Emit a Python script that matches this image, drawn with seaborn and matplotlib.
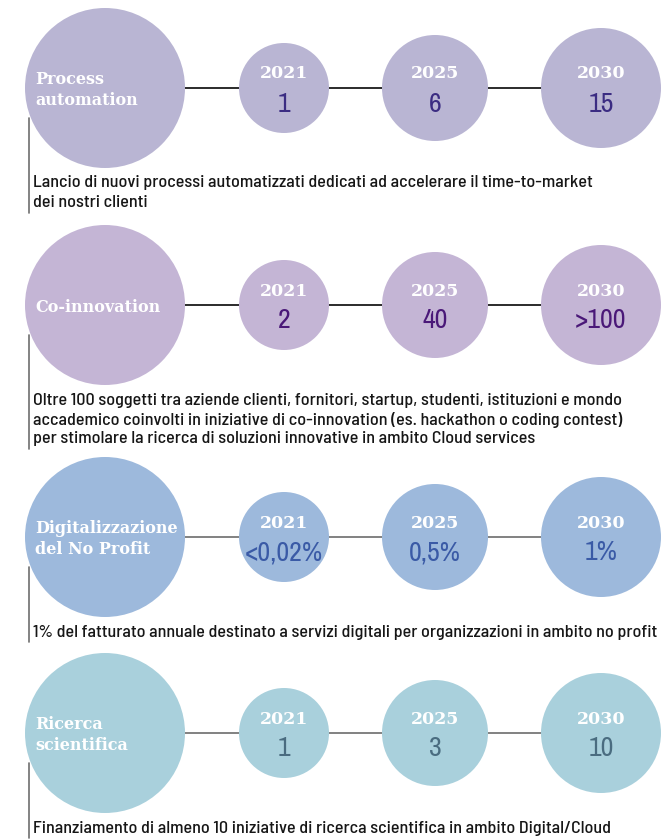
#!/usr/bin/env python3
"""
Roadmap infographic: four goals, each with a 2021 / 2025 / 2030 target.
"""

import pandas as pd
import matplotlib

matplotlib.use("Agg")
import matplotlib.pyplot as plt
import seaborn as sns
from matplotlib import font_manager

# Data
categories = [
    "Process\nautomation",
    "Co-innovation",
    "Digitalizzazione\ndel No Profit",
    "Ricerca\nscientifica",
]
years = ["2021", "2025", "2030"]
values_process = ["1", "6", "15"]
values_coinnovation = ["2", "40", ">100"]
values_noprofit = ["<0,02%", "0,5%", "1%"]
values_ricerca = ["1", "3", "10"]
descriptions = [
    "Lancio di nuovi processi automatizzati dedicati ad accelerare il time-to-market\n"
    "dei nostri clienti",
    "Oltre 100 soggetti tra aziende clienti, fornitori, startup, studenti, istituzioni e mondo\n"
    "accademico coinvolti in iniziative di co-innovation (es. hackathon o coding contest)\n"
    "per stimolare la ricerca di soluzioni innovative in ambito Cloud services",
    "1% del fatturato annuale destinato a servizi digitali per organizzazioni in ambito no profit",
    "Finanziamento di almeno 10 iniziative di ricerca scientifica in ambito Digital/Cloud",
]
all_values = [values_process, values_coinnovation, values_noprofit, values_ricerca]

# Layout (pixels, figure is 671 x 839 at dpi 100)
W, H, DPI = 671, 839, 100
row_y = [88, 305, 537, 733]
node_x = [105, 284, 435, 601]
node_r = [80, 45, 53, 60]
circle_colors = ["#b9b5d3", "#c4b5d5", "#9db9dc", "#a9d0dc"]
value_colors = ["#3b2c82", "#4a1878", "#3a5aa6", "#4a6c80"]
line_colors = ["#1a1a1a", "#1a1a1a", "#777777", "#777777"]


def pick_font(names, fallback):
    installed = {f.name for f in font_manager.fontManager.ttflist}
    for n in names:
        if n in installed:
            return n
    return fallback


body_font = pick_font(["Barlow Semi Condensed", "Archivo Narrow"], "Liberation Sans")
value_font = pick_font(["Archivo Narrow", "Barlow Semi Condensed"], "Liberation Sans")
serif = "DejaVu Serif"

# Build node table for the scatter
rows = []
for i, cat in enumerate(categories):
    rows.append({"row": cat, "x": node_x[0], "y": row_y[i], "r": node_r[0]})
    for j, yr in enumerate(years):
        rows.append({"row": cat, "x": node_x[j + 1], "y": row_y[i], "r": node_r[j + 1]})
nodes = pd.DataFrame(rows)

sns.set_theme(style="white")
fig = plt.figure(figsize=(W / DPI, H / DPI), dpi=DPI)
ax = fig.add_axes([0, 0, 1, 1])

# connecting lines under the circles
for i, y in enumerate(row_y):
    ax.plot([node_x[0], node_x[-1]], [y, y], color=line_colors[i], lw=1.3, zorder=0.5)

# circles: marker size in points^2 from the pixel radius
size_map = {r: (2 * r * 72 / DPI) ** 2 for r in node_r}
sns.scatterplot(
    data=nodes,
    x="x",
    y="y",
    hue="row",
    palette=circle_colors,
    size="r",
    sizes=size_map,
    linewidth=0,
    legend=False,
    ax=ax,
    zorder=1,
)

for i, cat in enumerate(categories):
    cy = row_y[i]
    # label in the big circle
    ax.text(
        35, cy + 2, cat, ha="left", va="center", color="white",
        fontsize=11.5, fontweight="bold", family=serif, linespacing=1.25, zorder=3,
    )
    # year + value in the small circles
    for j, yr in enumerate(years):
        ax.text(
            node_x[j + 1], cy - 14, yr, ha="center", va="center", color="white",
            fontsize=12.5, fontweight="bold", family=serif, zorder=3,
        )
        ax.text(
            node_x[j + 1], cy + 16, all_values[i][j], ha="center", va="center",
            color=value_colors[i], fontsize=20, family=value_font, zorder=3,
        )
    # description and its left rule
    lines = descriptions[i].split("\n")
    for k, line in enumerate(lines):
        ax.text(
            33, cy + 95 + k * 19.5, line, ha="left", va="center", color="#161616",
            fontsize=13, family=body_font, fontweight="medium", zorder=3,
        )
    y_end = min(cy + 95 + (len(lines) - 1) * 19.5 + 10, H)
    ax.plot([29, 29], [cy + 30, y_end], color="#6e6e6e", lw=1.2, zorder=2)

ax.set_xlim(0, W)
ax.set_ylim(H, 0)
ax.axis("off")

plt.savefig("out.png", dpi=DPI, facecolor="white")
plt.close()
